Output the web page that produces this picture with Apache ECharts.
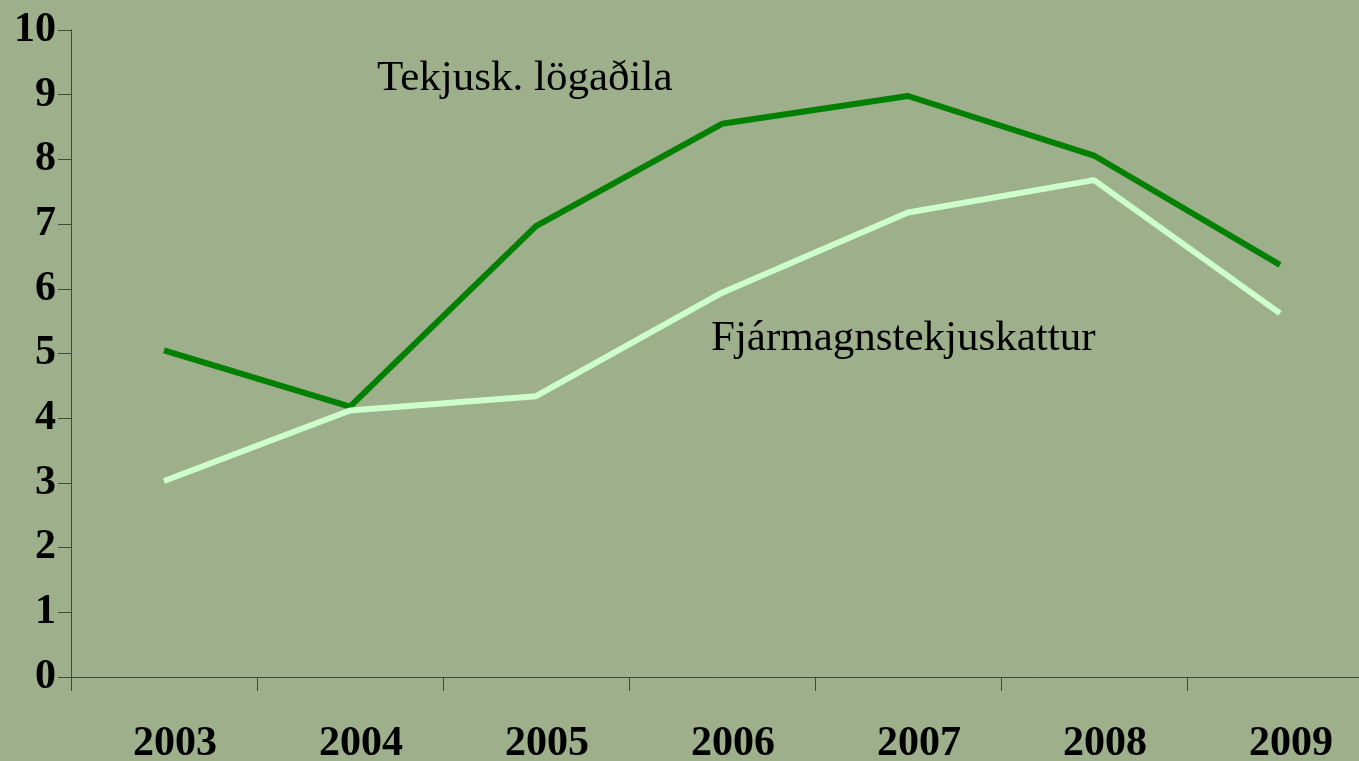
<!DOCTYPE html>
<html>
<head>
<meta charset="utf-8">
<script src="https://cdn.jsdelivr.net/npm/echarts@6/dist/echarts.min.js"></script>
<style>
  html, body { margin: 0; padding: 0; background: #9daf8b; }
  #chart { width: 1359px; height: 761px; }
</style>
</head>
<body>
<div id="chart"></div>
<script>
// years on the x axis
var years = ['2003', '2004', '2005', '2006', '2007', '2008', '2009']
// Tekjusk. lögaðila
var tekjuskLogadila = [5.05, 4.18, 6.97, 8.55, 8.98, 8.06, 6.37]
// Fjármagnstekjuskattur
var fjarmagnstekjuskattur = [3.03, 4.12, 4.34, 5.94, 7.18, 7.68, 5.62]

var chart = echarts.init(document.getElementById('chart'))
var axisColor = '#3f4a38'
var fontFamily = '"Liberation Serif", "Times New Roman", serif'

chart.setOption({
  backgroundColor: '#9daf8b',
  animation: false,
  grid: {
    left: 71,
    top: 30,
    bottom: 84,
    right: -14,
    outerBoundsMode: 'none',
    containLabel: false
  },
  xAxis: {
    type: 'category',
    data: years,
    boundaryGap: true,
    axisLine: { lineStyle: { color: axisColor, width: 1 } },
    axisTick: { show: true, length: 14, lineStyle: { color: axisColor } },
    axisLabel: {
      margin: 46,
      padding: [0, 0, 0, 22], // labels sit a bit right of the category centre
      color: '#000',
      fontSize: 42,
      fontWeight: 'bold',
      fontFamily: fontFamily
    }
  },
  yAxis: {
    type: 'value',
    min: 0,
    max: 10,
    interval: 1,
    splitLine: { show: false },
    axisLine: { show: true, lineStyle: { color: axisColor, width: 1 } },
    axisTick: { show: true, length: 13, lineStyle: { color: axisColor } },
    axisLabel: {
      margin: 15,
      color: '#000',
      fontSize: 42,
      fontWeight: 'bold',
      fontFamily: fontFamily
    }
  },
  graphic: [
    {
      type: 'text',
      x: 377,
      y: 79,
      style: {
        text: 'Tekjusk. lögaðila',
        fill: '#000',
        font: '43px ' + fontFamily,
        verticalAlign: 'middle'
      }
    },
    {
      type: 'text',
      x: 711,
      y: 339,
      style: {
        text: 'Fjármagnstekjuskattur',
        fill: '#000',
        font: '43px ' + fontFamily,
        verticalAlign: 'middle'
      }
    }
  ],
  series: [
    {
      name: 'Tekjusk. lögaðila',
      type: 'line',
      data: tekjuskLogadila,
      symbol: 'none',
      lineStyle: { color: '#008000', width: 6 },
      itemStyle: { color: '#008000' }
    },
    {
      name: 'Fjármagnstekjuskattur',
      type: 'line',
      data: fjarmagnstekjuskattur,
      symbol: 'none',
      lineStyle: { color: '#ccffcc', width: 6 },
      itemStyle: { color: '#ccffcc' }
    }
  ]
})
</script>
</body>
</html>
